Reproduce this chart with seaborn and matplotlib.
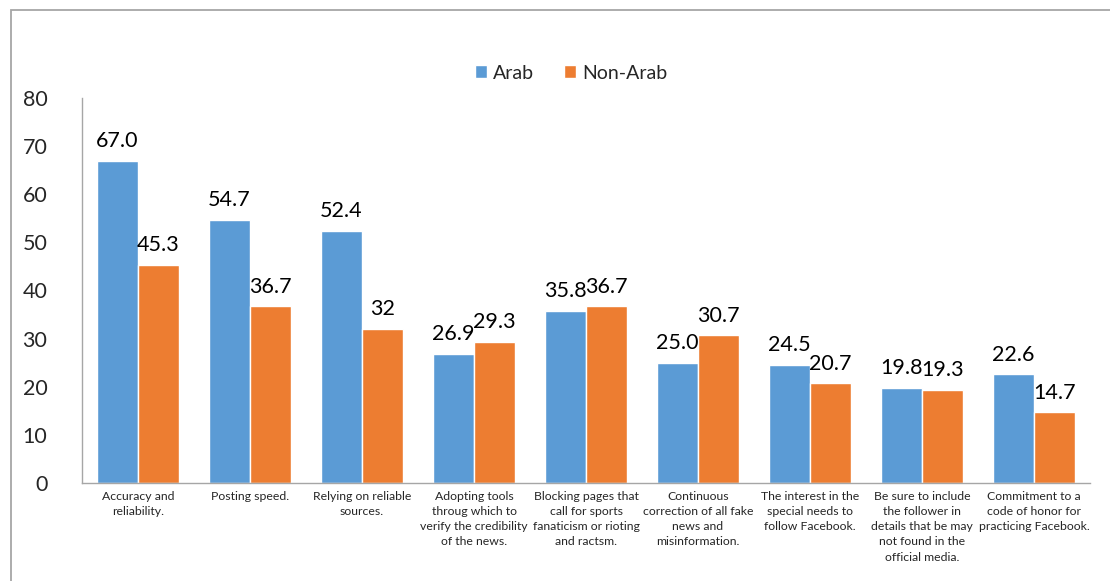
import matplotlib
matplotlib.use("Agg")
import matplotlib.pyplot as plt
import seaborn as sns
import pandas as pd
from matplotlib.patches import Rectangle

categories = [
    "Accuracy and\nreliability.",
    "Posting speed.",
    "Relying on reliable\nsources.",
    "Adopting tools\nthroug which to\nverify the credibility\nof the news.",
    "Blocking pages that\ncall for sports\nfanaticism or rioting\nand ractsm.",
    "Continuous\ncorrection of all fake\nnews and\nmisinformation.",
    "The interest in the\nspecial needs to\nfollow Facebook.",
    "Be sure to include\nthe follower in\ndetails that be may\nnot found in the\nofficial media.",
    "Commitment to a\ncode of honor for\npracticing Facebook.",
]
arab = [67.0, 54.7, 52.4, 26.9, 35.8, 25.0, 24.5, 19.8, 22.6]
non_arab = [45.3, 36.7, 32, 29.3, 36.7, 30.7, 20.7, 19.3, 14.7]
arab_labels = ["67.0", "54.7", "52.4", "26.9", "35.8", "25.0", "24.5", "19.8", "22.6"]
non_arab_labels = ["45.3", "36.7", "32", "29.3", "36.7", "30.7", "20.7", "19.3", "14.7"]
series = ["Arab", "Non-Arab"]
y_ticks = [0, 10, 20, 30, 40, 50, 60, 70, 80]

df = pd.DataFrame({
    "category": categories * 2,
    "value": arab + non_arab,
    "group": [series[0]] * len(categories) + [series[1]] * len(categories),
})

sns.set_theme(style="white")
plt.rcParams["font.family"] = ["Lato", "DejaVu Sans"]

fig = plt.figure(figsize=(11.1, 5.81), dpi=100)
ax = fig.add_axes([82 / 1110, 1 - 483 / 581, (1090 - 82) / 1110, (483 - 98) / 581])

palette = {"Arab": "#5B9BD5", "Non-Arab": "#ED7D31"}
sns.barplot(data=df, x="category", y="value", hue="group", palette=palette,
            width=0.73, ax=ax, saturation=1, legend=True, errorbar=None)

for cont, labs in zip(ax.containers, [arab_labels, non_arab_labels]):
    ax.bar_label(cont, labels=labs, padding=7, fontsize=15.5, color="black")

ax.set_ylim(0, 80)
ax.set_yticks(y_ticks)
ax.set_yticklabels([str(t) for t in y_ticks], fontsize=15.5)
ax.tick_params(axis="y", length=0, pad=25)
ax.tick_params(axis="x", length=0, pad=6)
ax.set_xticks(range(len(categories)))
ax.set_xticklabels(categories, fontsize=8.8, linespacing=1.45)
ax.set_xlabel("")
ax.set_ylabel("")
for s in ["top", "right"]:
    ax.spines[s].set_visible(False)
for s in ["left", "bottom"]:
    ax.spines[s].set_color("#A6A6A6")
    ax.spines[s].set_linewidth(1)
ax.grid(False)

leg = ax.legend(loc="center", bbox_to_anchor=(571 / 1110, 1 - 73 / 581),
                bbox_transform=fig.transFigure, ncol=2, frameon=False,
                fontsize=14, handlelength=0.65, handleheight=0.65,
                handletextpad=0.3, columnspacing=1.5)

fig.patches.append(Rectangle((11 / 1110, -0.05), 1.2, 1 - 10 / 581 + 0.05,
                             transform=fig.transFigure, fill=False,
                             edgecolor="#A6A6A6", linewidth=1.3))

fig.savefig("out.png", dpi=100)
